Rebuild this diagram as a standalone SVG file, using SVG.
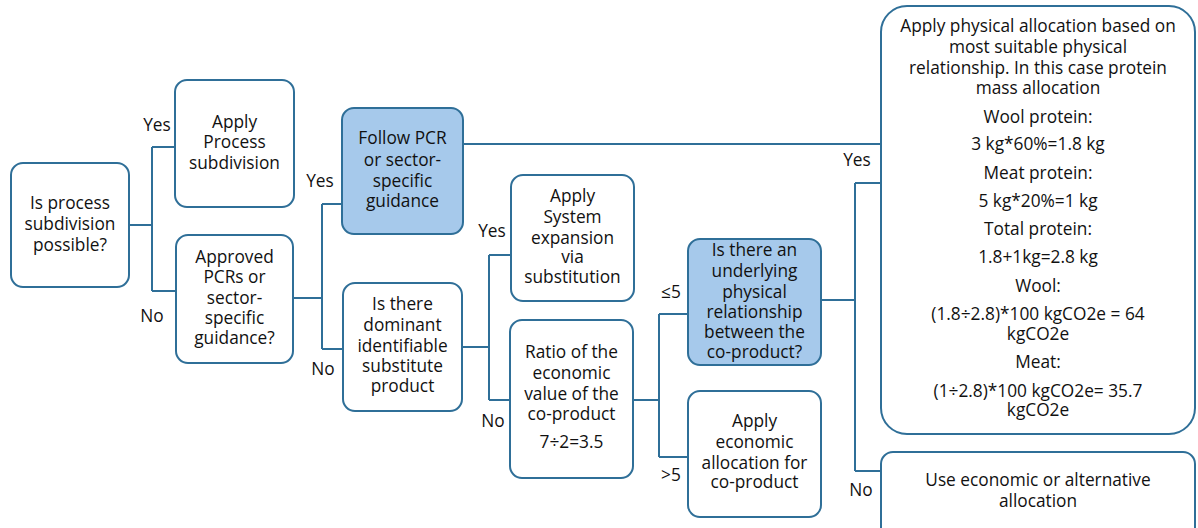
<svg xmlns="http://www.w3.org/2000/svg" width="1198" height="528" viewBox="0 0 1198 528">
<style>
.box{fill:#ffffff;stroke:#2f6f98;stroke-width:2}
.hl{fill:#a6c9eb;stroke:#2f6f98;stroke-width:2}
.ln{fill:none;stroke:#2f6f98;stroke-width:2}
text{font-family:"Open Sans","Liberation Sans",sans-serif;font-size:17.3px;fill:#111111;text-anchor:middle}
</style>
<rect width="1198" height="528" fill="#ffffff"/>
<g id="connectors">
<path class="ln" d="M129 225 H152 M152 147 V291 M152 147 H175 M152 291 H176"/>
<path class="ln" d="M293 298 H322 M322 204 V349 M322 204 H342 M322 349 H343"/>
<path class="ln" d="M462 347 H489 M489 255 V400 M489 255 H511 M489 400 H510"/>
<path class="ln" d="M633 400 H659 M659 314 V457 M659 314 H688 M659 457 H688"/>
<path class="ln" d="M821 300 H855 M855 183 V471 M855 183 H881 M855 471 H881"/>
<path class="ln" d="M463 144 H881"/>
</g>
<g id="labels">
<text x="157" y="131">Yes</text>
<text x="152" y="322">No</text>
<text x="320" y="187">Yes</text>
<text x="323" y="375">No</text>
<text x="492" y="237">Yes</text>
<text x="493" y="427">No</text>
<text x="671" y="298">≤5</text>
<text x="671" y="481">&gt;5</text>
<text x="857" y="166">Yes</text>
<text x="861" y="496">No</text>
</g>
<g id="n1">
<rect class="box" x="11" y="163" width="118" height="124" rx="12"/>
<text x="70" y="209">Is process</text>
<text x="70" y="230">subdivision</text>
<text x="70" y="251">possible?</text>
</g>
<g id="n2">
<rect class="box" x="175" y="80" width="119" height="127" rx="12"/>
<text x="234.5" y="128">Apply</text>
<text x="234.5" y="148">Process</text>
<text x="234.5" y="169">subdivision</text>
</g>
<g id="n3">
<rect class="box" x="176" y="235" width="117" height="128" rx="12"/>
<text x="234.5" y="263">Approved</text>
<text x="234.5" y="283">PCRs or</text>
<text x="234.5" y="304">sector-</text>
<text x="234.5" y="324">specific</text>
<text x="234.5" y="344">guidance?</text>
</g>
<g id="n4">
<rect class="hl" x="342" y="108" width="121" height="126" rx="12"/>
<text x="402.5" y="144">Follow PCR</text>
<text x="402.5" y="166">or sector-</text>
<text x="402.5" y="187">specific</text>
<text x="402.5" y="207">guidance</text>
</g>
<g id="n5">
<rect class="box" x="343" y="283" width="119" height="128" rx="12"/>
<text x="402.5" y="310">Is there</text>
<text x="402.5" y="331">dominant</text>
<text x="402.5" y="352">identifiable</text>
<text x="402.5" y="372">substitute</text>
<text x="402.5" y="392">product</text>
</g>
<g id="n6">
<rect class="box" x="511" y="175" width="123" height="126" rx="12"/>
<text x="572.5" y="202">Apply</text>
<text x="572.5" y="223">System</text>
<text x="572.5" y="244">expansion</text>
<text x="572.5" y="263">via</text>
<text x="572.5" y="283">substitution</text>
</g>
<g id="n7">
<rect class="box" x="510" y="320" width="123" height="158" rx="12"/>
<text x="571.5" y="358">Ratio of the</text>
<text x="571.5" y="379">economic</text>
<text x="571.5" y="400">value of the</text>
<text x="571.5" y="420">co-product</text>
<text x="571.5" y="448">7÷2=3.5</text>
</g>
<g id="n8">
<rect class="hl" x="688" y="239" width="133" height="126" rx="12"/>
<text x="754.5" y="256">Is there an</text>
<text x="754.5" y="277">underlying</text>
<text x="754.5" y="298">physical</text>
<text x="754.5" y="318">relationship</text>
<text x="754.5" y="338">between the</text>
<text x="754.5" y="358">co-product?</text>
</g>
<g id="n9">
<rect class="box" x="688" y="391" width="133" height="126" rx="12"/>
<text x="754.5" y="427">Apply</text>
<text x="754.5" y="448">economic</text>
<text x="754.5" y="469">allocation for</text>
<text x="754.5" y="488">co-product</text>
</g>
<g id="n10">
<rect class="box" x="881" y="6" width="314" height="428" rx="26"/>
<text x="1038" y="32">Apply physical allocation based on</text>
<text x="1038" y="53">most suitable physical</text>
<text x="1038" y="74">relationship. In this case protein</text>
<text x="1038" y="94">mass allocation</text>
<text x="1038" y="123">Wool protein:</text>
<text x="1038" y="150">3 kg*60%=1.8 kg</text>
<text x="1038" y="179">Meat protein:</text>
<text x="1038" y="207">5 kg*20%=1 kg</text>
<text x="1038" y="235">Total protein:</text>
<text x="1038" y="263">1.8+1kg=2.8 kg</text>
<text x="1038" y="292">Wool:</text>
<text x="1038" y="320">(1.8÷2.8)*100 kgCO2e = 64</text>
<text x="1038" y="340">kgCO2e</text>
<text x="1038" y="368">Meat:</text>
<text x="1038" y="397">(1÷2.8)*100 kgCO2e= 35.7</text>
<text x="1038" y="416">kgCO2e</text>
</g>
<g id="n11">
<rect class="box" x="881" y="452" width="314" height="90" rx="12"/>
<text x="1038" y="486">Use economic or alternative</text>
<text x="1038" y="507">allocation</text>
</g>
</svg>
